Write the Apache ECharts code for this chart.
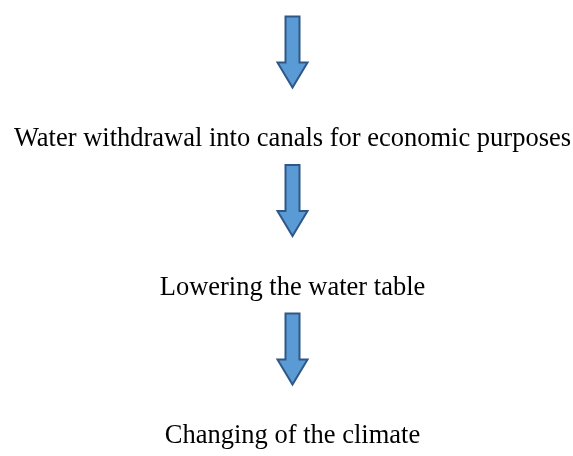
<!DOCTYPE html>
<html>
<head>
<meta charset="utf-8">
<script src="https://cdn.jsdelivr.net/npm/echarts@6/dist/echarts.min.js"></script>
<style>
    html, body { margin: 0; padding: 0; background: #fff; }
    #chart { width: 573px; height: 456px; }
</style>
</head>
<body>
<div id="chart"></div>
<script>
    // flow steps, top to bottom (each one has an arrow pointing into it)
    var columns = ['flow'];
    var stages = [
        'Water withdrawal into canals for economic purposes',
        'Lowering the water table',
        'Changing of the climate'
    ];

    var myChart = echarts.init(document.getElementById('chart'));

    // arrow drawn above the label, label centred on the category
    function renderStep(params, api) {
        var p = api.coord([api.value(0), api.value(1)]);
        var cx = p[0], ty = p[1];
        var sw = 7, hw = 15;
        var top = ty - 123, neck = ty - 77, tip = ty - 52;
        return {
            type: 'group',
            children: [
                {
                    type: 'polygon',
                    shape: {
                        points: [
                            [cx - sw, top], [cx + sw, top], [cx + sw, neck],
                            [cx + hw, neck], [cx, tip], [cx - hw, neck],
                            [cx - sw, neck]
                        ]
                    },
                    style: {
                        fill: '#5B9BD5',
                        stroke: '#2F5888',
                        lineWidth: 2,
                        lineJoin: 'miter'
                    }
                },
                {
                    type: 'text',
                    style: {
                        text: api.value(2),
                        x: cx,
                        y: ty,
                        fill: '#000',
                        fontFamily: '"Liberation Serif", "Times New Roman", serif',
                        fontSize: 26.5,
                        align: 'center',
                        verticalAlign: 'middle'
                    }
                }
            ]
        };
    }

    myChart.setOption({
        animation: false,
        grid: {
            left: 12,
            right: 0,
            top: 139.5,
            bottom: 19.5
        },
        xAxis: {
            type: 'category',
            data: columns,
            show: false
        },
        yAxis: {
            type: 'category',
            data: stages,
            inverse: true,
            boundaryGap: false,
            show: false
        },
        series: [
            {
                type: 'custom',
                renderItem: renderStep,
                encode: { x: 0, y: 1 },
                data: stages.map(function (s) { return [columns[0], s, s]; })
            }
        ]
    });
</script>
</body>
</html>
